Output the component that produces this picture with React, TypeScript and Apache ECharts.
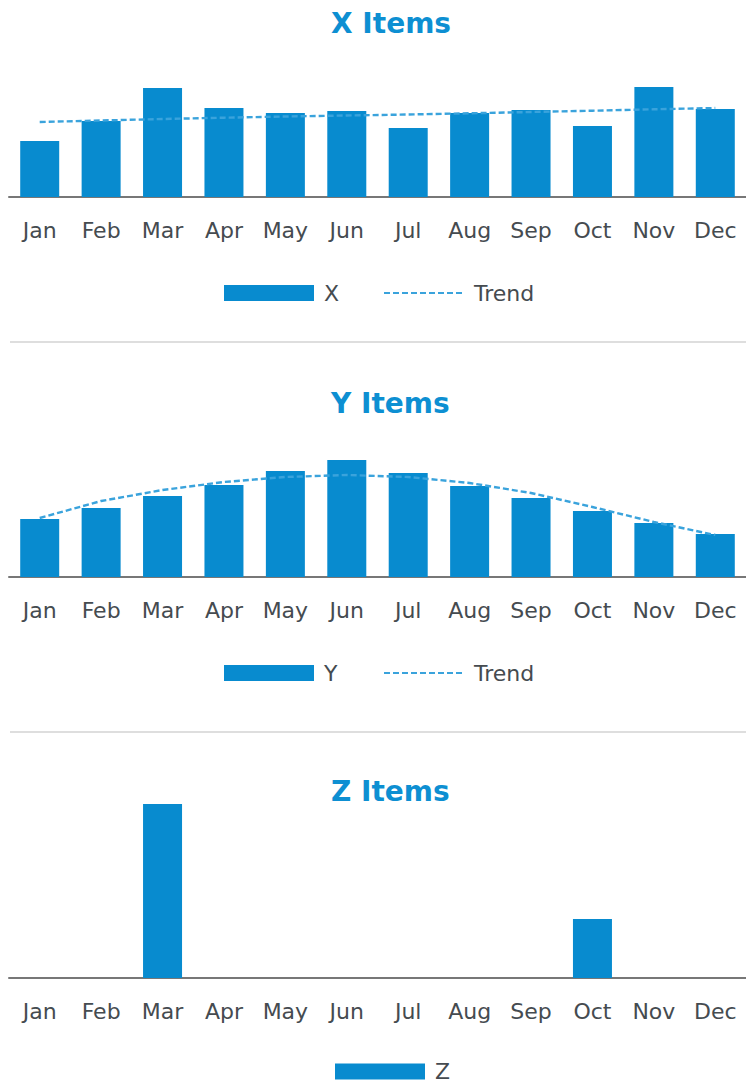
import React, { useEffect, useRef } from 'react';
import * as echarts from 'echarts';

const months = ['Jan', 'Feb', 'Mar', 'Apr', 'May', 'Jun', 'Jul', 'Aug', 'Sep', 'Oct', 'Nov', 'Dec'];

const xValues = [56, 76, 109, 89, 84, 86, 69, 84, 87, 71, 110, 88];
const xTrend = [75, 76.5, 78, 79.3, 80.5, 81.5, 82.5, 83.7, 85, 86.3, 87.7, 89];

const yValues = [58, 69, 81, 92, 106, 117, 104, 91, 79, 66, 54, 43];
const yTrend = [59, 76, 87, 95, 100, 102, 100, 94, 84, 70, 55, 42];

const zValues = [0, 0, 174, 0, 0, 0, 0, 0, 0, 59, 0, 0];

const BAR = '#088bcf';
const TITLE = '#0d8fd2';
const TREND = '#3aa3dc';
const LABEL = '#454b50';
const FONT = 'DejaVu Sans';

interface Block {
  title: string;
  name: string;
  values: number[];
  trend?: number[];
  top: number;
  height: number;
  titleY: number;
  axisY: number;
  gridH: number;
  legendY: number;
  sepY?: number;
  barLegendLeft: number;
}

const blocks: Block[] = [
  { title: 'X Items', name: 'X', values: xValues, trend: xTrend, top: 0, height: 340, titleY: 25, axisY: 197, gridH: 120, legendY: 292, barLegendLeft: 224 },
  { title: 'Y Items', name: 'Y', values: yValues, trend: yTrend, top: 340, height: 390, titleY: 65, axisY: 237, gridH: 120, legendY: 332, sepY: 2, barLegendLeft: 224 },
  { title: 'Z Items', name: 'Z', values: zValues, top: 730, height: 351, titleY: 63, axisY: 248, gridH: 180, legendY: 340.5, sepY: 2, barLegendLeft: 335 },
];

function buildOption(b: Block): any {
  const legendText = { fontFamily: FONT, fontSize: 22, lineHeight: 20, color: LABEL, padding: [0, 0, 0, 5] };
  const legends: any[] = [
    {
      left: b.barLegendLeft, top: b.legendY - 10, padding: 0, itemWidth: 90, itemHeight: 16, icon: 'rect',
      data: [b.name], textStyle: legendText, selectedMode: false,
    },
  ];
  const series: any[] = [
    { name: b.name, type: 'bar', data: b.values, barWidth: 39, itemStyle: { color: BAR } },
  ];
  if (b.trend) {
    legends.push({
      left: 383, top: b.legendY - 10, padding: 0, itemWidth: 80, itemHeight: 16,
      data: [{ name: 'Trend', itemStyle: { opacity: 0 } }], textStyle: legendText, selectedMode: false,
    });
    series.push({
      name: 'Trend', type: 'line', data: b.trend, symbol: 'none',
      lineStyle: { color: TREND, width: 2.4, type: [6, 3] }, itemStyle: { color: TREND }, z: 3,
    });
  }
  const graphic: any[] = [];
  if (b.sepY !== undefined) {
    graphic.push({ type: 'line', shape: { x1: 10, y1: b.sepY, x2: 746, y2: b.sepY }, style: { stroke: '#d3d3d3', lineWidth: 1.5 } });
  }
  return {
    animation: false,
    title: {
      text: b.title,
      left: 331,
      top: b.titleY - 16,
      padding: 0,
      textStyle: { fontFamily: FONT, fontWeight: 'bold', fontSize: 28, color: TITLE },
    },
    grid: { left: 9, width: 740, top: b.axisY - b.gridH, height: b.gridH },
    xAxis: {
      type: 'category',
      data: months,
      axisLine: { lineStyle: { color: '#777777', width: 2 } },
      axisTick: { show: false },
      axisLabel: { interval: 0, margin: 22, fontFamily: FONT, fontSize: 22, color: LABEL },
    },
    yAxis: { type: 'value', min: 0, max: b.gridH, show: false, splitLine: { show: false } },
    legend: legends,
    series,
    graphic,
  };
}

function Chart({ block }: { block: Block }) {
  const ref = useRef<HTMLDivElement>(null);
  useEffect(() => {
    if (!ref.current) return;
    const chart = echarts.init(ref.current, undefined, { renderer: 'svg' });
    chart.setOption(buildOption(block));
    return () => chart.dispose();
  }, [block]);
  return (
    <div
      ref={ref}
      style={{ position: 'absolute', left: 0, top: block.top, width: 746, height: block.height }}
    />
  );
}

export default function App() {
  return (
    <div style={{ position: 'absolute', left: 0, top: 0, width: 746, height: 1081, overflow: 'hidden', background: '#fff' }}>
      {blocks.map((b) => (
        <Chart key={b.name} block={b} />
      ))}
    </div>
  );
}
